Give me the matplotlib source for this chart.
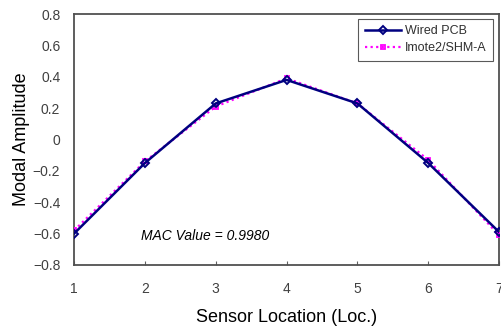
import matplotlib
matplotlib.use("Agg")
import matplotlib.pyplot as plt

locations = [1, 2, 3, 4, 5, 6, 7]
wired_pcb = [-0.60, -0.15, 0.23, 0.38, 0.23, -0.15, -0.59]
imote2 = [-0.58, -0.14, 0.21, 0.39, 0.23, -0.13, -0.61]
y_ticks = [-0.8, -0.6, -0.4, -0.2, 0, 0.2, 0.4, 0.6, 0.8]
y_labels = ["\u22120.8", "\u22120.6", "\u22120.4", "\u22120.2", "0", "0.2", "0.4", "0.6", "0.8"]

plt.rcParams["font.family"] = ["Liberation Sans", "DejaVu Sans"]
fig = plt.figure(figsize=(5.01, 3.27), dpi=100)
ax = fig.add_axes([0.148, 0.19, 0.848, 0.767])

ax.plot(locations, imote2, color="#ff00ff", ls=(0, (1, 1.5)), lw=1.6, marker="s", ms=3.5,
        mfc="none", mec="#ff00ff", mew=1.3, label="Imote2/SHM-A", zorder=3)
ax.plot(locations, wired_pcb, color="#000080", lw=1.8, marker="D", ms=4,
        mfc="none", mec="#000080", mew=1.4, label="Wired PCB", zorder=4)

ax.set_xlim(1, 7)
ax.set_ylim(-0.8, 0.8)
ax.set_xticks(locations)
ax.set_yticks(y_ticks)
ax.set_yticklabels(y_labels)
ax.tick_params(axis="x", direction="in", length=3, color="#606060", labelcolor="#404040",
               labelsize=10, pad=12)
ax.tick_params(axis="y", length=0, labelcolor="#404040", labelsize=10, pad=10)
for s in ax.spines.values():
    s.set_color("#505050"); s.set_linewidth(1.3)

ax.set_xlabel("Sensor Location (Loc.)", fontsize=13, labelpad=10)
ax.set_ylabel("Modal Amplitude", fontsize=13, labelpad=2)
ax.text(2.85, -0.615, "MAC Value = 0.9980", style="italic", fontsize=10, ha="center", va="center")

h, l = ax.get_legend_handles_labels()
leg = ax.legend(h[::-1], l[::-1], loc="upper right", bbox_to_anchor=(0.986, 0.98), fontsize=9,
                frameon=True, fancybox=False, edgecolor="#303030", handlelength=2.9,
                handletextpad=0.35, borderpad=0.5, labelspacing=0.4, borderaxespad=0)
leg.get_frame().set_linewidth(0.8)
for t in leg.get_texts():
    t.set_color("#303030")

fig.savefig("out.png", dpi=100)
